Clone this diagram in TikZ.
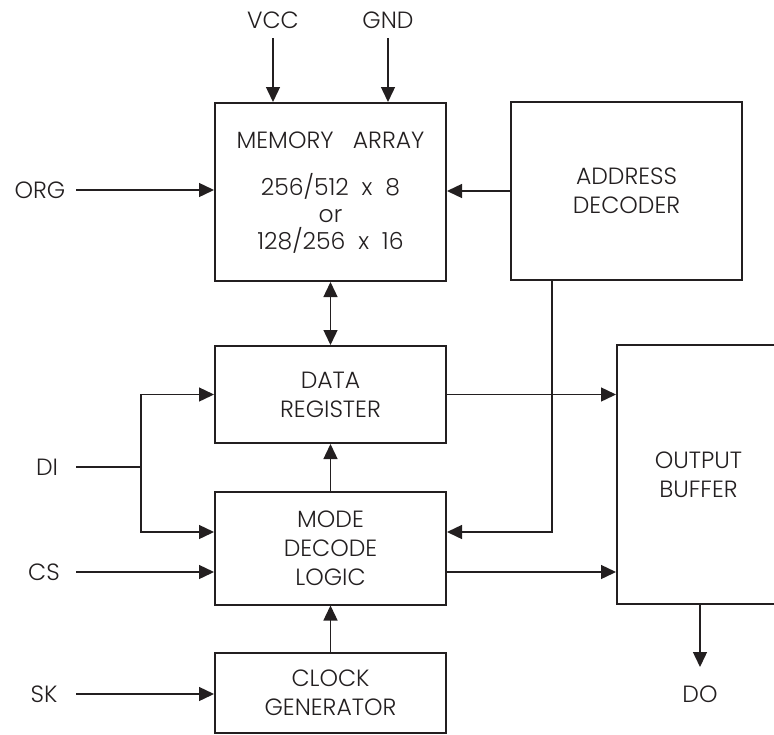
\documentclass[tikz,border=0pt]{standalone}
\usepackage{fontspec}
\setmainfont{Poppins Light}
\usetikzlibrary{arrows.meta}
\definecolor{ink}{HTML}{231F20}
\begin{document}
\begin{tikzpicture}[x=1pt,y=-1pt,
  every node/.style={text=ink, font=\fontsize{23.5}{29}\selectfont},
  blk/.style={draw=ink, line width=2pt, minimum width=231pt, align=center, inner sep=0pt},
  lbl/.style={inner sep=0pt, anchor=center},
  conn/.style={draw=ink, line width=1.4pt},
  arr/.style={conn, -{Triangle[length=15pt,width=14pt]}},
  darr/.style={conn, {Triangle[length=15pt,width=14pt]}-{Triangle[length=15pt,width=14pt]}}]
\useasboundingbox (0,0) rectangle (774,734);
% blocks
\node[blk, minimum height=178pt] (mem) at (330.5,192) {};
\node[lbl] (memt) at (330.5,140) {MEMORY\ \ \ ARRAY};
\node[lbl, align=center, font=\fontsize{23.5}{27}\selectfont] (mems) at (330.5,213) {256/512\ \ x\ \ 8\\or\\128/256\ \ x\ \ 16};
\node[blk, minimum height=178pt] (addr) at (626.5,191) {ADDRESS\\DECODER};
\node[blk, minimum height=97pt] (data) at (330.5,394.5) {DATA\\REGISTER};
\node[blk, minimum height=113pt] (mode) at (330.5,548) {MODE\\DECODE\\LOGIC};
\node[blk, minimum height=80pt] (clk) at (330.5,693) {CLOCK\\GENERATOR};
\node[blk, minimum width=163pt, minimum height=259pt, text width=150pt] (out) at (698.5,474.5) {OUTPUT\\BUFFER};
% labels
\node[lbl] (vcc) at (273,20) {VCC};
\node[lbl] (gnd) at (388,20) {GND};
\node[lbl] (org) at (40,190) {ORG};
\node[lbl] (di) at (47,467) {DI};
\node[lbl] (cs) at (44,572) {CS};
\node[lbl] (sk) at (44,694) {SK};
\node[lbl] (do) at (700,694) {DO};
% coordinates
\coordinate (vtop) at (273,38);
\coordinate (gtop) at (388,38);
\coordinate (orgs) at (76,190);
\coordinate (dis) at (76,467);
\coordinate (jm) at (141,467);
\coordinate (jb) at (141,532);
\coordinate (css) at (76,572);
\coordinate (sks) at (76,694);
\coordinate (ab) at (552,532);
\coordinate (doend) at (700,667);
% connectors
\draw[arr] (vtop) -- (vtop |- mem.north);
\draw[arr] (gtop) -- (gtop |- mem.north);
\draw[arr] (orgs) -- (orgs -| mem.west);
\draw[arr] (addr.west) -- (addr.west -| mem.east);
\draw[darr] (mem.south) -- (data.north);
\draw[conn] (dis) -- (jm);
\draw[arr] (jm) |- (data.west);
\draw[arr] (jm) |- (jb -| mode.west);
\draw[arr] (css) -- (css -| mode.west);
\draw[arr] (sks) -- (sks -| clk.west);
\draw[arr] (mode.north) -- (data.south);
\draw[arr] (clk.north) -- (mode.south);
\draw[arr] (ab |- addr.south) |- (ab -| mode.east);
\draw[arr] (data.east) -- (data.east -| out.west);
\draw[arr] (css -| mode.east) -- (css -| out.west);
\draw[arr] (doend |- out.south) -- (doend);
\end{tikzpicture}
\end{document}
